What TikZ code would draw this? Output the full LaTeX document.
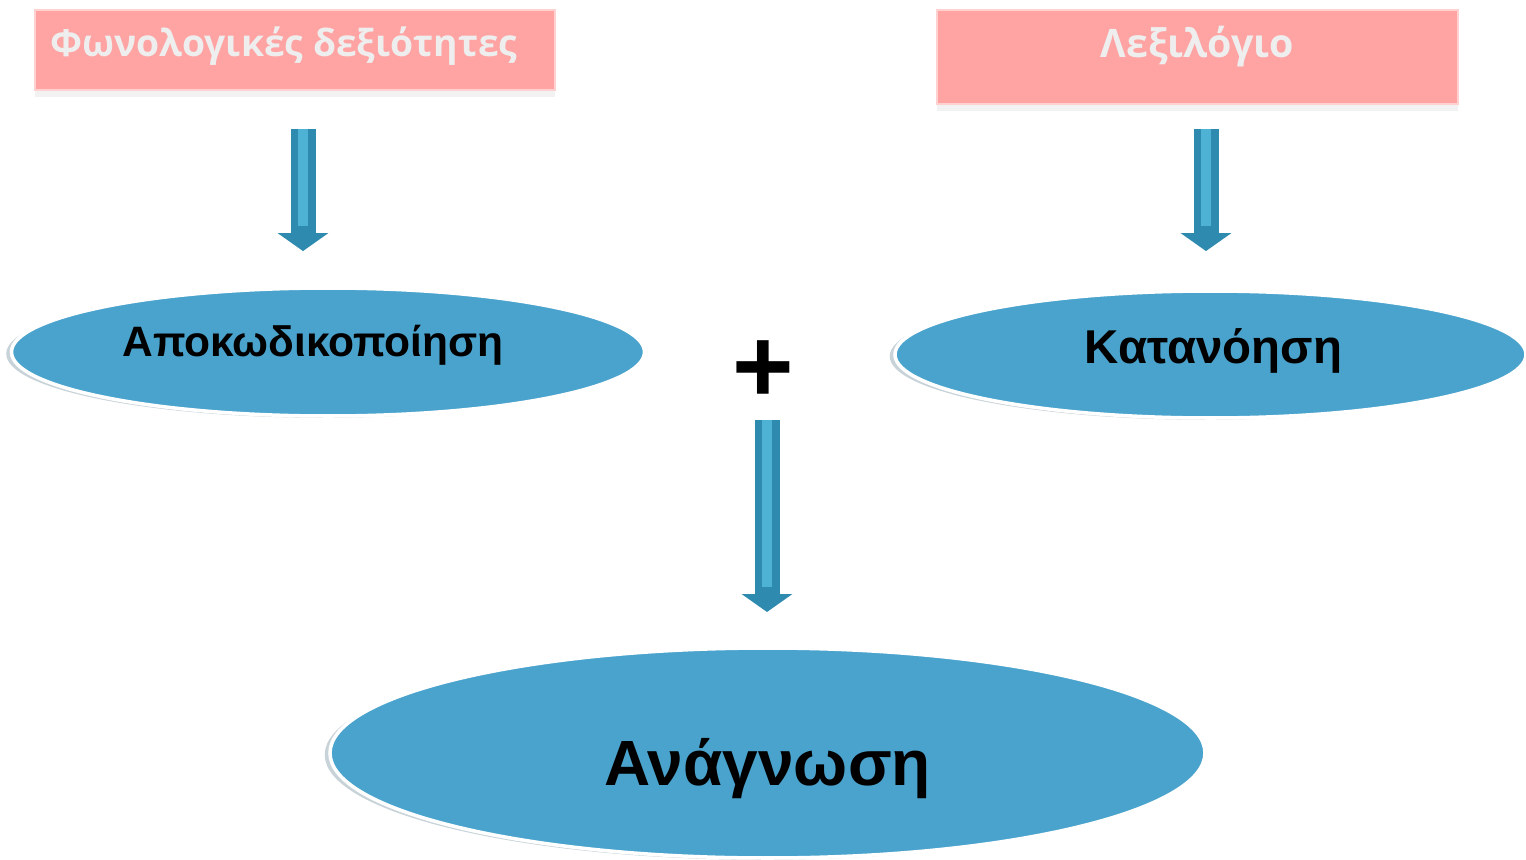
\documentclass[tikz,border=0pt]{standalone}
\usepackage{fontspec}
\setmainfont{Liberation Sans}
\newfontfamily\boxfont{Open Sans}
\usetikzlibrary{shapes.geometric,shadows,arrows.meta}

\definecolor{boxpink}{HTML}{FFA3A3}
\definecolor{boxtext}{HTML}{EEEEEE}
\definecolor{ovalblue}{HTML}{4AA3CD}
\definecolor{arrowdark}{HTML}{2E8AAE}
\definecolor{arrowlight}{HTML}{4DB2D4}

% Move a text inside its node without changing the node
\newcommand\nudge[3]{\hspace*{#1}\raisebox{#2}[\height][\depth]{#3}\hspace*{-#1}}

\begin{document}
\begin{tikzpicture}[
    skillbox/.style={rectangle, fill=boxpink, draw=boxpink!50!white, line width=0.6pt,
        inner sep=0pt, text=boxtext, font=\boxfont\bfseries,
        drop shadow={shadow xshift=0pt, shadow yshift=-2pt, opacity=0.1}},
    oval/.style={ellipse, fill=ovalblue, draw=white, line width=1pt, inner sep=0pt,
        text=black, drop shadow={shadow xshift=-1.5pt, shadow yshift=-0.5pt, opacity=0.25,
        fill=ovalblue!50!black}},
    flowarrow/.style={line width=0.25cm, arrowdark, -{Triangle[width=0.5cm,length=0.18cm]},
        postaction={draw, arrowlight, line width=0.1cm, -, shorten >=0.25cm}}
]

    % Fix the size of the picture
    \useasboundingbox (0,0) rectangle (15.26,-8.6);

    % The two pink boxes at the top
    \node[skillbox, minimum width=5.2cm, minimum height=0.8cm, font=\boxfont\bfseries\fontsize{10.6}{13}\selectfont]
        (phon) at (2.95,-0.5) {\nudge{-0.11cm}{0.04cm}{Φωνολογικές δεξιότητες}};
    \node[skillbox, minimum width=5.21cm, minimum height=0.94cm, font=\boxfont\bfseries\fontsize{11.2}{13}\selectfont]
        (vocab) at (11.975,-0.57) {\nudge{0cm}{0.1cm}{Λεξιλόγιο}};

    % The two middle ellipses
    \node[oval, minimum width=6.33cm, minimum height=1.28cm,
        font=\bfseries\fontsize{12.1}{14}\selectfont] (decode) at (3.28,-3.52) {\nudge{-0.15cm}{0.07cm}{Αποκωδικοποίηση}};
    \node[oval, minimum width=6.31cm, minimum height=1.27cm,
        font=\bfseries\fontsize{13.5}{16}\selectfont] (compr) at (12.105,-3.545) {\nudge{0.03cm}{0.04cm}{Κατανόηση}};

    % The plus sign between them
    \node[font=\bfseries\fontsize{30}{30}\selectfont] (plus) at (7.63,-3.72) {+};

    % The big ellipse at the bottom
    \node[oval, minimum width=8.75cm, minimum height=2.1cm,
        font=\bfseries\fontsize{18.2}{21}\selectfont] (read) at (7.675,-7.53) {\nudge{0cm}{-0.16cm}{Ανάγνωση}};

    % Block arrows pointing down
    \draw[flowarrow] (phon.south) ++(0.08,-0.38) -- ++(0,-1.22);
    \draw[flowarrow] (vocab.south) ++(0.085,-0.24) -- ++(0,-1.22);
    \draw[flowarrow] (plus.center) ++(0.04,-0.48) -- ++(0,-1.92);

\end{tikzpicture}
\end{document}
